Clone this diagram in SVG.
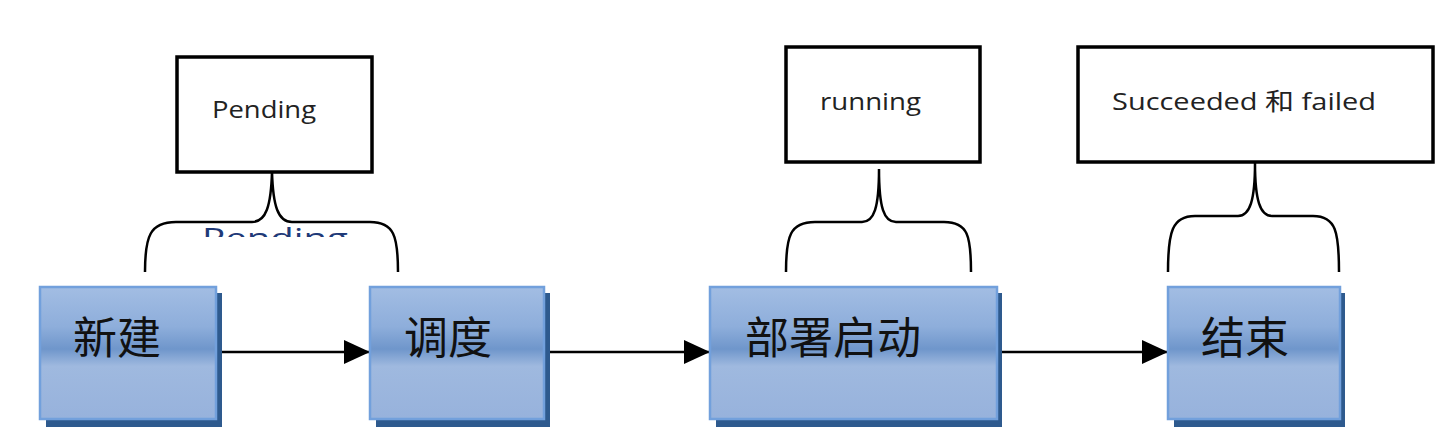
<svg xmlns="http://www.w3.org/2000/svg" width="1448" height="443" viewBox="0 0 1448 443">
<defs>
<linearGradient id="g" x1="0" y1="0" x2="0" y2="1">
<stop offset="0" stop-color="#a2bde3"/>
<stop offset="0.3" stop-color="#8eaedb"/>
<stop offset="0.47" stop-color="#6f96cb"/>
<stop offset="0.6" stop-color="#9fb9df"/>
<stop offset="1" stop-color="#97b2dc"/>
</linearGradient>
<marker id="ah" markerWidth="26" markerHeight="24" refX="26" refY="12" orient="auto" markerUnits="userSpaceOnUse">
<path d="M0,0 L26,12 L0,24 Z" fill="#000"/>
</marker>
<clipPath id="cp"><rect x="190" y="220" width="180" height="17"/></clipPath>
</defs>
<style>
.shadow{fill:#2e5a8e}
.box{fill:url(#g);stroke:#72a0dc;stroke-width:2.5}
.cjk{font-family:"Noto Sans CJK SC","Noto Sans",sans-serif;font-size:44px;fill:#111}
.call{fill:#fff;stroke:#000;stroke-width:3.5}
.lbl{font-family:"Open Sans","Noto Sans","Noto Sans CJK SC",sans-serif;font-size:24px;fill:#222}
.brace{fill:none;stroke:#000;stroke-width:2.5}
.conn{stroke:#000;stroke-width:2.5;fill:none}
</style>
<rect width="1448" height="443" fill="#fff"/>

<g id="connectors">
<line class="conn" x1="216" y1="352" x2="370" y2="352" marker-end="url(#ah)"/>
<line class="conn" x1="546" y1="352" x2="710" y2="352" marker-end="url(#ah)"/>
<line class="conn" x1="997" y1="352" x2="1168" y2="352" marker-end="url(#ah)"/>
</g>

<g id="node-xinjian">
<rect class="shadow" x="46" y="293" width="176" height="134"/>
<rect class="box" x="40" y="287" width="176" height="132"/>
<text class="cjk" x="73" y="354">新建</text>
</g>
<g id="node-diaodu">
<rect class="shadow" x="376" y="293" width="174" height="134"/>
<rect class="box" x="370" y="287" width="174" height="132"/>
<text class="cjk" x="404" y="354">调度</text>
</g>
<g id="node-bushuqidong">
<rect class="shadow" x="716" y="293" width="286" height="134"/>
<rect class="box" x="710" y="287" width="287" height="132"/>
<text class="cjk" x="745" y="354">部署启动</text>
</g>
<g id="node-jieshu">
<rect class="shadow" x="1174" y="293" width="171" height="134"/>
<rect class="box" x="1168" y="287" width="172" height="132"/>
<text class="cjk" x="1201" y="354">结束</text>
</g>

<g id="callout-pending">
<rect class="call" x="177" y="57" width="195" height="115"/>
<text class="lbl" x="212" y="118" textLength="104" lengthAdjust="spacingAndGlyphs">Pending</text>
<path class="brace" d="M145,272 C145,236 150,222 176,222 L252,222 C266,222 271,206 272,172 C273,206 278,222 292,222 L370,222 C394,222 398,236 398,272"/>
<text clip-path="url(#cp)" x="202" y="248" font-family="Open Sans, Noto Sans, sans-serif" font-size="28" fill="#1f3a78" textLength="146" lengthAdjust="spacingAndGlyphs">Pending</text>
</g>
<g id="callout-running">
<rect class="call" x="786" y="47" width="194" height="115"/>
<text class="lbl" x="820" y="110" textLength="101" lengthAdjust="spacingAndGlyphs">running</text>
<path class="brace" d="M786,272 C786,236 790,222 815,222 L862,222 C874,222 879,208 879,169 C879,208 884,222 896,222 L944,222 C968,222 971,236 971,272"/>
</g>
<g id="callout-succeeded">
<rect class="call" x="1078" y="47" width="355" height="115"/>
<text class="lbl" x="1112" y="110" textLength="264" lengthAdjust="spacingAndGlyphs">Succeeded 和 failed</text>
<path class="brace" d="M1168,272 C1168,232 1172,216 1195,216 L1238,216 C1250,216 1255,200 1255,163 C1255,200 1260,216 1272,216 L1313,216 C1336,216 1339,232 1339,272"/>
</g>
</svg>
